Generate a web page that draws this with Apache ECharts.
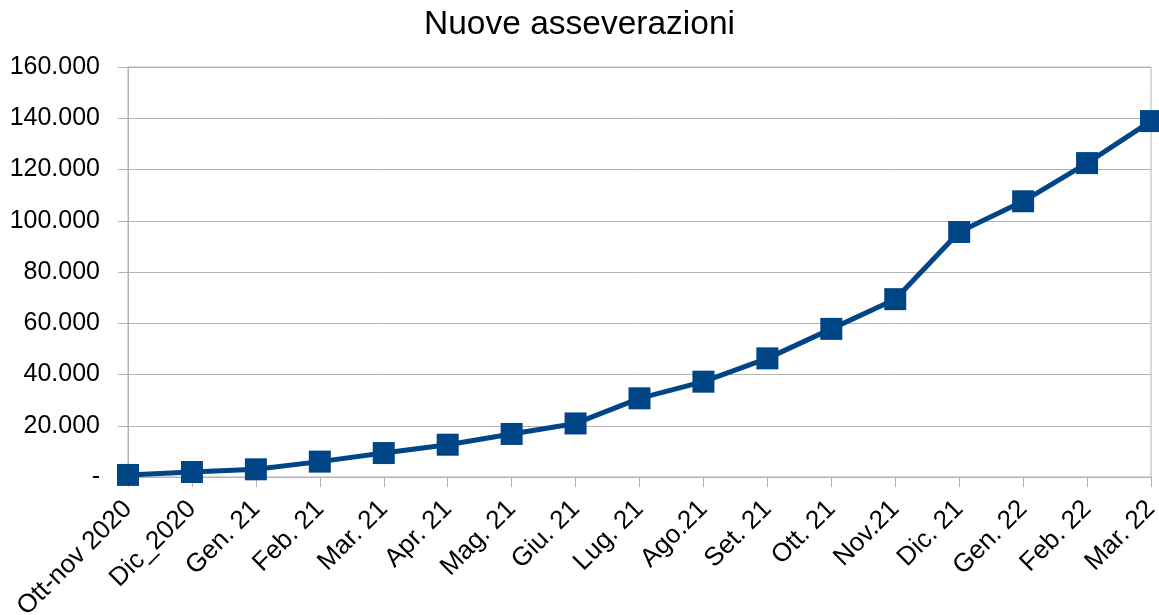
<!DOCTYPE html>
<html>
<head>
<meta charset="utf-8">
<script src="https://cdn.jsdelivr.net/npm/echarts@6/dist/echarts.min.js"></script>
<style>
  html, body { margin: 0; padding: 0; background: #fff; }
  #chart { width: 1159px; height: 615px; }
</style>
</head>
<body>
<div id="chart"></div>
<script>
// dati
const mesi = ["Ott-nov 2020", "Dic_2020", "Gen. 21", "Feb. 21", "Mar. 21", "Apr. 21", "Mag. 21", "Giu. 21",
  "Lug. 21", "Ago.21", "Set. 21", "Ott. 21", "Nov.21", "Dic. 21", "Gen. 22", "Feb. 22", "Mar. 22"];
const asseverazioni = [800, 1950, 3000, 6000, 9350, 12600, 16800, 20900,
  30700, 37200, 46300, 57800, 69400, 95600, 107600, 122500, 138900];
const yMin = 0;
const yMax = 160000;
const yStep = 20000;

function formatNum(v) {
  if (v === 0) return "-";
  return String(v).replace(/\B(?=(\d{3})+(?!\d))/g, ".");
}

const myChart = echarts.init(document.getElementById("chart"));
const font = "Liberation Sans, Arial, sans-serif";

const option = {
  animation: false,
  title: {
    text: "Nuove asseverazioni",
    left: "center",
    top: 3,
    textStyle: { fontFamily: font, fontSize: 33.5, fontWeight: "normal", color: "#000" }
  },
  grid: {
    left: 128, right: 8, top: 67, bottom: 138,
    containLabel: false,
    outerBoundsMode: "none",
    show: true, borderColor: "#b3b3b3", borderWidth: 1
  },
  xAxis: {
    type: "category",
    data: mesi,
    boundaryGap: false,
    axisLine: { lineStyle: { color: "#b3b3b3", width: 1 } },
    axisTick: { show: true, alignWithLabel: true, length: 10, lineStyle: { color: "#b3b3b3" } },
    splitLine: { show: false },
    axisLabel: {
      interval: 0,
      rotate: 45,
      margin: 28,
      fontFamily: font,
      fontSize: 26,
      color: "#000"
    }
  },
  yAxis: {
    type: "value",
    min: yMin,
    max: yMax,
    interval: yStep,
    axisLine: { show: true, lineStyle: { color: "#b3b3b3" } },
    axisTick: { show: true, length: 10, lineStyle: { color: "#b3b3b3" } },
    splitLine: { lineStyle: { color: "#b3b3b3" } },
    axisLabel: {
      formatter: formatNum,
      margin: 28,
      fontFamily: font,
      fontSize: 25,
      color: "#000"
    }
  },
  series: [
    {
      name: "Nuove asseverazioni",
      type: "line",
      data: asseverazioni,
      symbol: "rect",
      symbolSize: 22,
      lineStyle: { color: "#004586", width: 5 },
      itemStyle: { color: "#004586" }
    }
  ]
};

myChart.setOption(option);
</script>
</body>
</html>
